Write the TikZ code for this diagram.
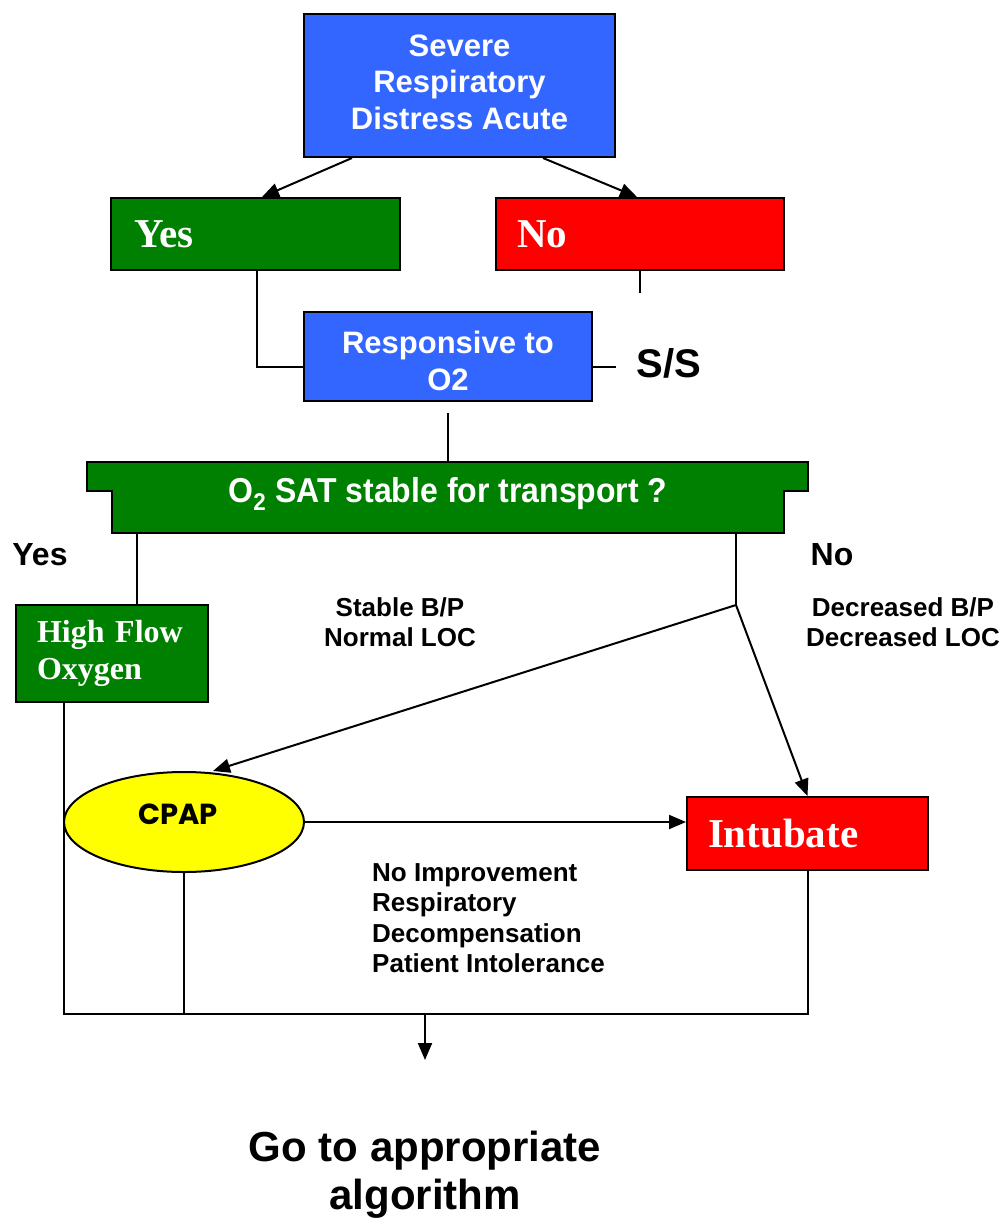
\documentclass[tikz,border=0pt]{standalone}
\usepackage{fontspec}
\setmainfont{Liberation Serif}
\setsansfont{Liberation Sans}
\newfontfamily\cpapfont{Poppins}
\usetikzlibrary{arrows.meta,shapes.geometric}
\definecolor{boxblue}{HTML}{3366FF}
\definecolor{boxgreen}{HTML}{008000}
\definecolor{boxred}{HTML}{FF0000}
\definecolor{boxyellow}{HTML}{FFFF00}
\tikzset{
  box/.style={draw=black, line width=2pt, rectangle, inner sep=0pt},
  bluebox/.style={box, fill=boxblue, text=white, align=center, font=\sffamily\bfseries\fontsize{31}{36.5}\selectfont},
  greenbox/.style={box, fill=boxgreen, text=white},
  redbox/.style={box, fill=boxred, text=white},
  serifbig/.style={font=\rmfamily\bfseries\fontsize{41}{46}\selectfont},
  serifmid/.style={font=\rmfamily\bfseries\fontsize{32}{37}\selectfont},
  lab/.style={font=\sffamily\bfseries\fontsize{26}{30.5}\selectfont, align=center, inner sep=0pt},
  biglab/.style={font=\sffamily\bfseries\fontsize{32}{37}\selectfont, inner sep=0pt},
  conn/.style={line width=2pt, draw=black},
  arr/.style={conn, -{Triangle[length=17pt,width=14pt]}},
}
\begin{document}
\begin{tikzpicture}[x=1pt,y=-1pt]
\useasboundingbox[fill=white] (0,0) rectangle (1008,1219);

% boxes
\node[bluebox, minimum width=311pt, minimum height=143pt] (top) at (459.5,85.5) {};
\node[text=white, align=center, font=\sffamily\bfseries\fontsize{31}{36.5}\selectfont, inner sep=0pt] (toptext) at (459.5,82)
  {Severe\\Respiratory\\Distress Acute};
\node[greenbox, serifbig, minimum width=289pt, minimum height=72pt, inner xsep=23pt,
      text width=243pt, align=left] (yes) at (255.5,234) {Yes};
\node[redbox, serifbig, minimum width=288pt, minimum height=72pt, inner xsep=21pt,
      text width=246pt, align=left] (no) at (640,234) {No};
\node[bluebox, minimum width=288pt, minimum height=89pt] (resp) at (448,356.5) {};
\node[text=white, align=center, font=\sffamily\bfseries\fontsize{31}{36.5}\selectfont, inner sep=0pt] (resptext) at (448,361)
  {Responsive to\\O2};
\node[biglab, font=\sffamily\bfseries\fontsize{40}{46}\selectfont] (ss) at (669,363) {S/S};

% banner
\path[fill=boxgreen, draw=black, line width=2pt, line join=miter]
  (87,462) -- (808,462) -- (808,491) -- (784,491) -- (784,533) -- (112,533) -- (112,491) -- (87,491) -- cycle;
\node[text=white, font=\sffamily\bfseries\fontsize{32}{36}\selectfont, inner sep=0pt] (banner) at (448,494)
  {\scalebox{1}[1.08]{O\textsubscript{2} SAT stable for transport ?}};
\coordinate (bannerTop) at (448,462);
\coordinate (bannerL) at (137,533);
\coordinate (bannerR) at (736,533);

\node[biglab] (yeslab) at (40,555) {Yes};
\node[biglab] (nolab) at (832,555) {No};
\node[lab] (stable) at (400,622) {Stable B/P\\Normal LOC};
\node[lab] (decr) at (903,622) {Decreased B/P\\Decreased LOC};

\node[greenbox, serifmid, minimum width=192pt, minimum height=97pt, inner xsep=21pt,
      text width=150pt, align=left] (hfo) at (112,653.5) {High Flow\\Oxygen};

\node[ellipse, draw=black, line width=2pt, fill=boxyellow, minimum width=240pt, minimum height=100pt, inner sep=0pt] (cpap) at (184,822) {};
\node[font=\cpapfont\bfseries\fontsize{29}{32}\selectfont, inner sep=0pt] (cpaptext) at (178,814) {CPAP};

\node[redbox, serifbig, minimum width=241pt, minimum height=73pt, inner xsep=21pt,
      text width=199pt, align=left] (intub) at (807.5,833.5) {Intubate};

\node[lab, align=left, anchor=west] (noimp) at (372,918)
  {No Improvement\\Respiratory\\Decompensation\\Patient Intolerance};

\node[font=\sffamily\bfseries\fontsize{42}{48}\selectfont, align=center, inner sep=0pt] (goto) at (425,1175)
  {Go to appropriate\\algorithm};

% connectors
\draw[arr] ([xshift=-107.5pt]top.south) -- ([xshift=6.5pt]yes.north);
\draw[arr] ([xshift=83.5pt]top.south) -- ([xshift=-3pt]no.north);
\draw[conn] ([xshift=1.5pt]yes.south) |- ([yshift=-10.5pt]resp.west);
\coordinate (nostub) at (640,293);
\draw[conn] (no.south) -- (nostub);
\coordinate (ssend) at (616,367);
\draw[conn] ([yshift=-10.5pt]resp.east) -- (ssend);
\coordinate (respgap) at (448,413);
\draw[conn] (respgap) -- (bannerTop);
\draw[conn] (bannerL) -- ([xshift=25pt]hfo.north);
\coordinate (split) at (736,605);
\draw[conn] (bannerR) -- (split);
\draw[arr] (split) -- ([xshift=29pt]cpap.north);
\draw[arr] (split) -- (intub.north);
\draw[arr] (cpap.east) -- (cpap.east -| intub.west);

\coordinate (bl) at (64,1014);
\coordinate (bm) at (425,1014);
\coordinate (bend) at (425,1060);
\draw[conn] ([xshift=-48pt]hfo.south) -- (bl) -- (bl -| intub.south) -- (intub.south);
\draw[conn] (cpap.south) -- (cpap.south |- bl);
\draw[arr] (bm) -- (bend);
\end{tikzpicture}
\end{document}
